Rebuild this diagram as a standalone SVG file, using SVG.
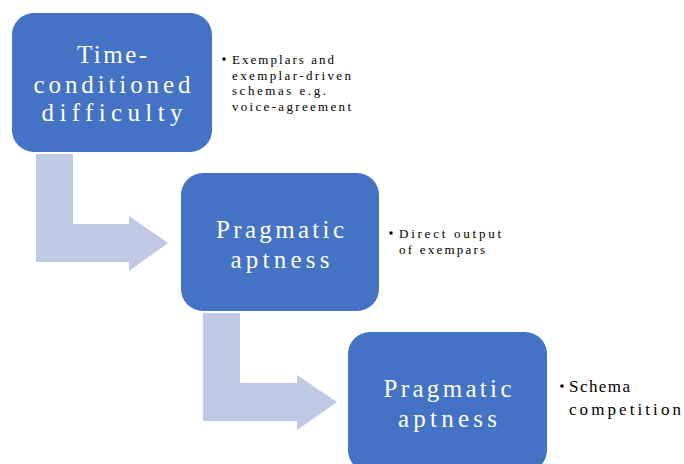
<svg xmlns="http://www.w3.org/2000/svg" width="684" height="464" viewBox="0 0 684 464">
<style>
.box{fill:#4472C4;}
.arrow{fill:#BFC9E3;}
.bt{font-family:"Liberation Serif",serif;font-size:25px;fill:#FFFFFF;text-anchor:middle;}
.note{font-family:"Liberation Serif",serif;font-size:13px;fill:#000000;}
.note3{font-family:"Liberation Serif",serif;font-size:17px;fill:#000000;}
.bul{fill:#000000;}
</style>
<rect width="684" height="464" fill="#FFFFFF"/>
<g id="connectors">
<polygon class="arrow" points="36,154 73,154 73,224 129,224 129,216 168,243 129,271 129,262 36,262"/>
<polygon class="arrow" points="203,313 240,313 240,383 297,383 297,375 337,402 297,430 297,421 203,421"/>
</g>
<g id="node1">
<rect class="box" x="12" y="13" width="200" height="139" rx="22"/>
<text class="bt" x="112" y="63" textLength="70" lengthAdjust="spacing">Time-</text>
<text class="bt" x="112" y="93" textLength="157" lengthAdjust="spacing">conditioned</text>
<text class="bt" x="112" y="121" textLength="141" lengthAdjust="spacing">difficulty</text>
</g>
<g id="note1">
<rect class="bul" x="222.5" y="57.5" width="3" height="3"/>
<text class="note" x="232" y="64" textLength="102" lengthAdjust="spacing">Exemplars and</text>
<text class="note" x="232" y="80" textLength="119" lengthAdjust="spacing">exemplar-driven</text>
<text class="note" x="232" y="95" textLength="94" lengthAdjust="spacing">schemas e.g.</text>
<text class="note" x="232" y="111" textLength="119" lengthAdjust="spacing">voice-agreement</text>
</g>
<g id="node2">
<rect class="box" x="181" y="173" width="198" height="138" rx="22"/>
<text class="bt" x="280" y="238" textLength="128" lengthAdjust="spacing">Pragmatic</text>
<text class="bt" x="280" y="268" textLength="99" lengthAdjust="spacing">aptness</text>
</g>
<g id="note2">
<rect class="bul" x="389.5" y="231.5" width="3" height="3"/>
<text class="note" x="399" y="238" textLength="102" lengthAdjust="spacing">Direct output</text>
<text class="note" x="399" y="254" textLength="86" lengthAdjust="spacing">of exempars</text>
</g>
<g id="node3">
<rect class="box" x="348" y="332" width="199" height="140" rx="22"/>
<text class="bt" x="447.5" y="397" textLength="128" lengthAdjust="spacing">Pragmatic</text>
<text class="bt" x="447.5" y="427" textLength="99" lengthAdjust="spacing">aptness</text>
</g>
<g id="note3">
<circle class="bul" cx="562" cy="386" r="1.8"/>
<text class="note3" x="569" y="392" textLength="61" lengthAdjust="spacing">Schema</text>
<text class="note3" x="569" y="415" textLength="112" lengthAdjust="spacing">competition</text>
</g>
</svg>
